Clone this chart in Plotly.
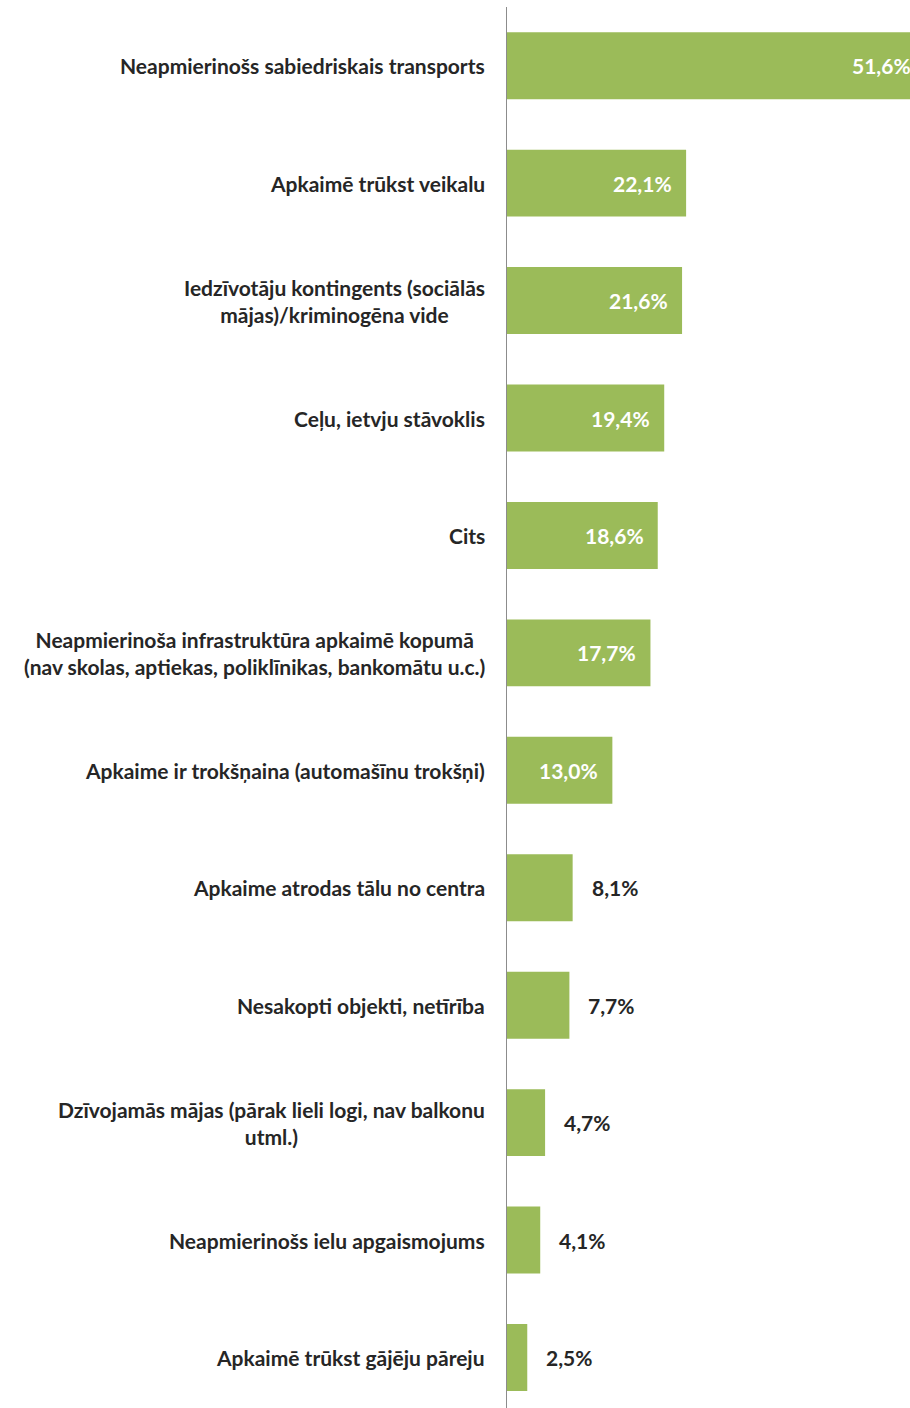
import plotly.graph_objects as go

categories = [
    "Neapmierinošs sabiedriskais transports",
    "Apkaimē trūkst veikalu",
    "Iedzīvotāju kontingents (sociālās<br>mājas)/kriminogēna vide",
    "Ceļu, ietvju stāvoklis",
    "Cits",
    "Neapmierinoša infrastruktūra apkaimē kopumā<br>(nav skolas, aptiekas, poliklīnikas, bankomātu u.c.)",
    "Apkaime ir trokšņaina (automašīnu trokšņi)",
    "Apkaime atrodas tālu no centra",
    "Nesakopti objekti, netīrība",
    "Dzīvojamās mājas (pārak lieli logi, nav balkonu<br>utml.)",
    "Neapmierinošs ielu apgaismojums",
    "Apkaimē trūkst gājēju pāreju",
]
values = [51.6, 22.1, 21.6, 19.4, 18.6, 17.7, 13.0, 8.1, 7.7, 4.7, 4.1, 2.5]
value_labels = ["51,6%", "22,1%", "21,6%", "19,4%", "18,6%", "17,7%", "13,0%",
                "8,1%", "7,7%", "4,7%", "4,1%", "2,5%"]

FONT = "Lato"
BAR = "#9BBB59"
DARK = "#262626"

fig = go.Figure(go.Bar(
    x=values, y=categories, orientation="h",
    marker=dict(color=BAR, line=dict(width=0)),
    width=0.57, hoverinfo="skip",
))

annotations = []
for c, v, lab in zip(categories, values, value_labels):
    inside = v >= 10
    annotations.append(dict(
        x=v, y=c, xref="x", yref="y", text=f"<b>{lab}</b>", showarrow=False,
        xanchor="right" if inside else "left",
        xshift=-12 if inside else 17,
        font=dict(family=FONT, size=21, color="white" if inside else DARK),
    ))
    annotations.append(dict(
        x=0, y=c, xref="paper", yref="y", text=f"<b>{c}</b>", showarrow=False,
        xanchor="right", xshift=-20, align="center",
        font=dict(family=FONT, size=21, color=DARK),
    ))

fig.update_layout(
    width=926, height=1408,
    margin=dict(l=507, r=0, t=7, b=0),
    paper_bgcolor="white", plot_bgcolor="white",
    showlegend=False,
    annotations=annotations,
    xaxis=dict(range=[0, 51.7], visible=False, showgrid=False, zeroline=False),
    yaxis=dict(range=[11.43, -0.5], showticklabels=False, showgrid=False,
               zeroline=False, showline=True, linecolor="#8C8C8C", linewidth=1,
               ticks=""),
)

fig.write_html(
    "out.html",
    config={"displayModeBar": False},
    post_script="document.body.style.margin='0';document.body.style.overflow='hidden';",
)
